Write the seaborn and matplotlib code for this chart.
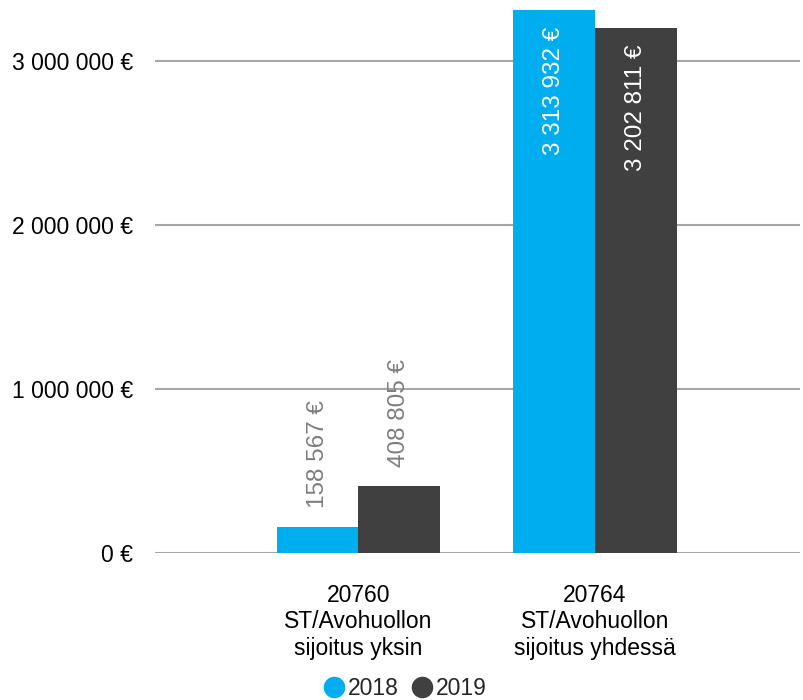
import pandas as pd
import seaborn as sns
import matplotlib.pyplot as plt
from matplotlib.lines import Line2D
from matplotlib.ticker import FuncFormatter

# Data
categories = ['20760\nST/Avohuollon\nsijoitus yksin', '20764\nST/Avohuollon\nsijoitus yhdessä']
years = ['2018', '2019']
values_2018 = [158567, 3313932]
values_2019 = [408805, 3202811]
y_ticks = [0, 1000000, 2000000, 3000000]

colors = ['#00ADEF', '#404040']

df = pd.DataFrame({
    'Kategoria': categories * 2,
    'Vuosi': [years[0]] * 2 + [years[1]] * 2,
    'Arvo': values_2018 + values_2019,
})

sns.set_style('white')
plt.rcParams['font.family'] = ['Liberation Sans', 'DejaVu Sans']


def euro(v, pos=None):
    return '{:,.0f} €'.format(v).replace(',', ' ')


fig = plt.figure(figsize=(8.04, 7.0), dpi=100)
ax = fig.add_axes([0.1928, 0.21, 0.8022, 0.7843])

sns.barplot(data=df, x='Kategoria', y='Arvo', hue='Vuosi', palette=colors,
            width=0.69, saturation=1, legend=False, linewidth=0, ax=ax, zorder=3)

ax.set_xlim(-0.86, 1.867)
ax.set_ylim(0, 3350000)
ax.set_yticks(y_ticks)
ax.yaxis.set_major_formatter(FuncFormatter(euro))
ax.yaxis.grid(True, color='#A6A6A6', linewidth=1.5, zorder=0)
ax.xaxis.grid(False)
for s in ax.spines.values():
    s.set_visible(False)
ax.tick_params(axis='both', length=0, labelsize=16.5, colors='black')
ax.tick_params(axis='y', pad=16)
ax.tick_params(axis='x', pad=22)
ax.set_xlabel('')
ax.set_ylabel('')

# Data labels: inside end for tall bars, outside end for short ones
for cont in ax.containers:
    for bar in cont:
        h = bar.get_height()
        x = bar.get_x() + bar.get_width() / 2
        if h > 1000000:
            ax.annotate(euro(h), (x, h), xytext=(0, -12), textcoords='offset points',
                        rotation=90, ha='center', va='top', color='white', fontsize=17.5)
        else:
            ax.annotate(euro(h), (x, h), xytext=(0, 13.5), textcoords='offset points',
                        rotation=90, ha='center', va='bottom', color='#7F7F7F', fontsize=17.5)

handles = [Line2D([], [], marker='o', linestyle='', markersize=14.5,
                  markerfacecolor=c, markeredgecolor=c) for c in colors]
fig.legend(handles, years, loc='center', bbox_to_anchor=(0.504, 0.017), ncol=2,
           frameon=False, fontsize=16.5, handlelength=0.9, handletextpad=0.15,
           columnspacing=0.6, borderpad=0)

plt.savefig('out.png', dpi=100)
